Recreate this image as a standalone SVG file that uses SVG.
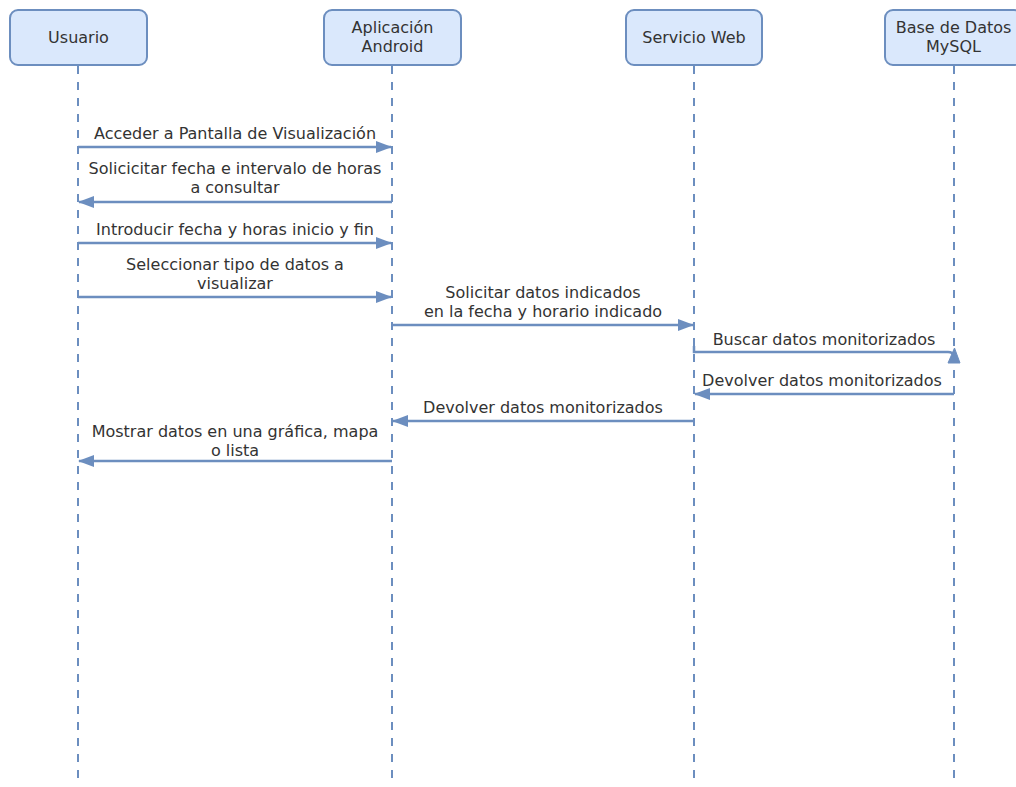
<svg xmlns="http://www.w3.org/2000/svg" width="1016" height="787" viewBox="0 0 1016 787">
  <style>
    .box { fill: #dae8fc; stroke: #6c8ebf; stroke-width: 2; }
    .life { stroke: #6c8ebf; stroke-width: 2; stroke-dasharray: 8 8; fill: none; }
    .msg { stroke: #6c8ebf; stroke-width: 2.5; fill: none; }
    .head { fill: #6c8ebf; stroke: #6c8ebf; stroke-width: 1; }
    text { font-family: "DejaVu Sans", Verdana, sans-serif; font-size: 16px; fill: #333333; text-anchor: middle; }
  </style>
  <defs>
    <marker id="arrow" viewBox="0 0 16 12" refX="15" refY="6" markerWidth="16" markerHeight="12" markerUnits="userSpaceOnUse" orient="auto">
      <path d="M0,0 L16,6 L0,12 Z" fill="#6c8ebf"/>
    </marker>
  </defs>

  <rect width="1016" height="787" fill="#ffffff"/>

  <!-- lifelines -->
  <g id="lifelines">
    <line class="life" x1="78" y1="66" x2="78" y2="782"/>
    <line class="life" x1="392" y1="66" x2="392" y2="782"/>
    <line class="life" x1="694" y1="66" x2="694" y2="782"/>
    <line class="life" x1="954" y1="66" x2="954" y2="782"/>
  </g>

  <!-- participants -->
  <g id="usuario">
    <rect class="box" x="10" y="10" width="137" height="55" rx="8"/>
    <text x="78.5" y="43">Usuario</text>
  </g>
  <g id="app-android">
    <rect class="box" x="324" y="10" width="137" height="55" rx="8"/>
    <text x="392.5" y="33">Aplicación</text>
    <text x="392.5" y="52">Android</text>
  </g>
  <g id="servicio-web">
    <rect class="box" x="626" y="10" width="136" height="55" rx="8"/>
    <text x="694" y="43">Servicio Web</text>
  </g>
  <g id="base-datos">
    <rect class="box" x="885" y="10" width="137" height="55" rx="8"/>
    <text x="953.5" y="33">Base de Datos</text>
    <text x="953.5" y="52">MySQL</text>
  </g>

  <!-- messages -->
  <g id="connectors">
    <line class="msg" x1="78" y1="147" x2="391" y2="147" marker-end="url(#arrow)"/>
    <line class="msg" x1="392" y1="202" x2="79" y2="202" marker-end="url(#arrow)"/>
    <line class="msg" x1="78" y1="243" x2="391" y2="243" marker-end="url(#arrow)"/>
    <line class="msg" x1="78" y1="297" x2="391" y2="297" marker-end="url(#arrow)"/>
    <line class="msg" x1="392" y1="325" x2="693" y2="325" marker-end="url(#arrow)"/>
    <path class="msg" d="M694,346 L694,352 L948,352 Q953,352 954,356"/>
    <path class="head" d="M948,363 L954.5,348 L960,363 Z"/>
    <line class="msg" x1="954" y1="394" x2="695" y2="394" marker-end="url(#arrow)"/>
    <line class="msg" x1="694" y1="421" x2="393" y2="421" marker-end="url(#arrow)"/>
    <line class="msg" x1="392" y1="461" x2="79" y2="461" marker-end="url(#arrow)"/>
  </g>

  <!-- message labels -->
  <g id="labels">
    <text x="235" y="139">Acceder a Pantalla de Visualización</text>
    <text x="235" y="174">Solicicitar fecha e intervalo de horas</text>
    <text x="235" y="193">a consultar</text>
    <text x="235" y="235">Introducir fecha y horas inicio y fin</text>
    <text x="235" y="270">Seleccionar tipo de datos a</text>
    <text x="235" y="289">visualizar</text>
    <text x="543" y="298">Solicitar datos indicados</text>
    <text x="543" y="317">en la fecha y horario indicado</text>
    <text x="824" y="345">Buscar datos monitorizados</text>
    <text x="822" y="386">Devolver datos monitorizados</text>
    <text x="543" y="413">Devolver datos monitorizados</text>
    <text x="235" y="437">Mostrar datos en una gráfica, mapa</text>
    <text x="235" y="456">o lista</text>
  </g>
</svg>
